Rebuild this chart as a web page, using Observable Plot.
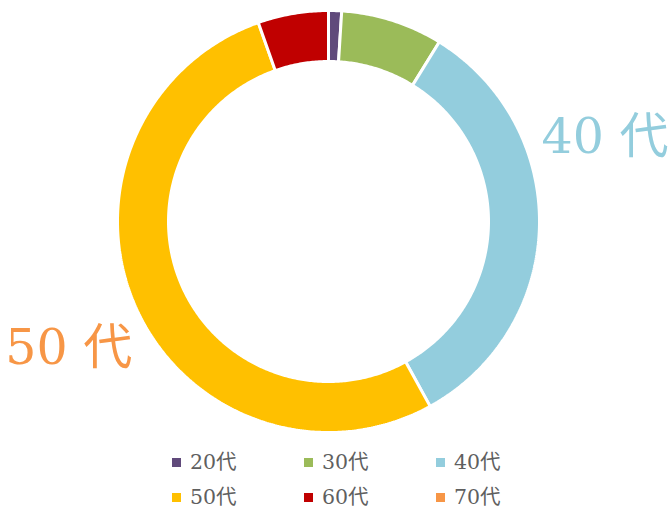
<!DOCTYPE html>
<html>
<head>
<meta charset="utf-8">
<script src="https://cdn.jsdelivr.net/npm/d3@7"></script>
<script src="https://cdn.jsdelivr.net/npm/@observablehq/plot@0.6"></script>
<style>
  html, body { margin: 0; background: #fff; font-family: "DejaVu Serif", "Noto Sans CJK JP", serif; overflow: hidden; }
  #legend { display: grid; grid-template-columns: 132px 132px 132px; grid-template-rows: 35px 28px; padding-left: 172px; }
  .item { box-sizing: border-box; padding-top: 7px; height: 28px; display: flex; align-items: flex-start; font-size: 20.5px; line-height: 20px; color: #5f5f5f; }
  .sw { width: 9px; height: 9px; margin-right: 9px; margin-top: 6px; }
</style>
</head>
<body>
<div id="chart"></div>
<div id="legend"></div>
<script>
const categories = ["20代", "30代", "40代", "50代", "60代", "70代"];
const values = [1.0, 7.8, 33.2, 52.6, 5.4, 0];
const colors = ["#604A7B", "#9BBB59", "#93CDDD", "#FFC000", "#C00000", "#F79646"];
const calloutText = ["40 代", "50 代"];
const calloutColors = ["#93CDDD", "#F79646"];

const W = 669, H = 445, cx = 328, cy = 221, R = 211;
const rOuter = 1, rInner = 160 / 211;
const total = d3.sum(values);

// ring polygons from the values
const ring = [];
let acc = 0;
categories.forEach((c, i) => {
  const a0 = acc / total * 2 * Math.PI;
  acc += values[i];
  const a1 = acc / total * 2 * Math.PI;
  if (values[i] <= 0) return;
  const n = Math.max(4, Math.ceil((a1 - a0) / 0.01));
  for (let k = 0; k <= n; k++) {
    const a = a0 + (a1 - a0) * k / n;
    ring.push({cat: c, x: rOuter * Math.sin(a), y: rOuter * Math.cos(a)});
  }
  for (let k = n; k >= 0; k--) {
    const a = a0 + (a1 - a0) * k / n;
    ring.push({cat: c, x: rInner * Math.sin(a), y: rInner * Math.cos(a)});
  }
  ring.push({cat: c, x: rOuter * Math.sin(a0), y: rOuter * Math.cos(a0)});
});

const labelAngles = [73, 244].map(d => d * Math.PI / 180);
const labelR = 1.37;
const callouts = calloutText.map((t, i) => ({
  text: t, color: calloutColors[i],
  x: labelR * Math.sin(labelAngles[i]), y: labelR * Math.cos(labelAngles[i])
}));

const plot = Plot.plot({
  width: W, height: H,
  margin: 0,
  x: {domain: [-cx / R, (W - cx) / R], range: [0, W], axis: null},
  y: {domain: [-(H - cy) / R, cy / R], range: [H, 0], axis: null},
  color: {domain: categories, range: colors},
  style: {fontFamily: "'DejaVu Serif', 'Noto Sans CJK JP', serif", background: "#fff"},
  marks: [
    Plot.line(ring, {x: "x", y: "y", z: "cat", fill: "cat", stroke: "white", strokeWidth: 3, strokeLinejoin: "miter"}),
    Plot.text(callouts, {x: "x", y: "y", text: "text", fill: "color", fontSize: 49, textAnchor: "middle", lineAnchor: "middle"})
  ]
});
plot.style.display = "block";
document.getElementById("chart").appendChild(plot);

const legend = document.getElementById("legend");
categories.forEach((c, i) => {
  const it = document.createElement("div");
  it.className = "item";
  it.innerHTML = `<span class="sw" style="background:${colors[i]}"></span><span>${c}</span>`;
  legend.appendChild(it);
});
</script>
</body>
</html>
